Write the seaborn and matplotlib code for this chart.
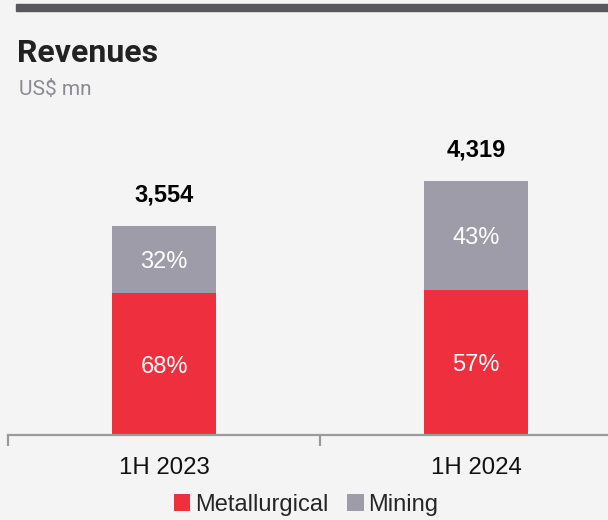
import matplotlib
matplotlib.use("Agg")
import matplotlib.pyplot as plt
import seaborn as sns
import pandas as pd
from matplotlib.patches import Patch, Rectangle

periods = ["1H 2023", "1H 2024"]
totals = [3554, 4319]
metallurgical_pct = [68, 57]
mining_pct = [32, 43]
total_labels = ["3,554", "4,319"]

RED = "#EE2F3E"
GRAY = "#9D9CA8"
BG = "#F4F4F4"

sns.set_theme(style="white")
plt.rcParams["font.family"] = ["Liberation Sans", "DejaVu Sans"]

df = pd.DataFrame({
    "period": periods,
    "total": totals,
    "met": [t * p / 100 for t, p in zip(totals, metallurgical_pct)],
})

W, H = 608, 520
fig = plt.figure(figsize=(W / 100, H / 100), dpi=100, facecolor=BG)

# axes: left at x=8 px, category width 312 px, base at y=435 px
ax_left = 8 / W
ax_w = 624 / W
ax_bottom = (H - 435) / H
ymax = 5000
px_per_unit = 209 / 3554
ax_h = ymax * px_per_unit / H
ax = fig.add_axes([ax_left, ax_bottom, ax_w, ax_h])
ax.set_facecolor(BG)

sns.barplot(data=df, x="period", y="total", color=GRAY, width=1/3,
            saturation=1, ax=ax, edgecolor="none")
sns.barplot(data=df, x="period", y="met", color=RED, width=1/3,
            saturation=1, ax=ax, edgecolor="none")

ax.set_xlim(-0.5, 1.5)
ax.set_ylim(0, ymax)
ax.set_xlabel("")
ax.set_ylabel("")
ax.set_yticks([])
for s in ["top", "right", "left"]:
    ax.spines[s].set_visible(False)
ax.spines["bottom"].set_color("#9a9a9a")
ax.spines["bottom"].set_linewidth(1.6)

ax.set_xticks([0, 1])
ax.set_xticklabels(periods, fontsize=17.3, color="#111111")
ax.tick_params(axis="x", which="major", length=0, pad=16)
ax.set_xticks([-0.5, 0.5, 1.5], minor=True)
ax.tick_params(axis="x", which="minor", length=8, width=1.6, color="#9a9a9a",
               direction="out", bottom=True)

for i, (t, mp, np_, lab) in enumerate(zip(totals, metallurgical_pct, mining_pct, total_labels)):
    met = t * mp / 100
    ax.annotate(f"{mp}%", (i, met / 2), xytext=(0, -2), textcoords="offset points",
                ha="center", va="center", color="white", fontsize=17)
    ax.annotate(f"{np_}%", (i, met + (t - met) / 2), xytext=(0, -2), textcoords="offset points",
                ha="center", va="center", color="white", fontsize=17)
    ax.annotate(lab, (i, t), xytext=(0, 14), textcoords="offset points",
                ha="center", va="bottom", fontsize=17, fontweight="bold", color="black")

# header
fig.patches.append(Rectangle((16 / W, 1 - 10.5 / H), 1 - 16 / W, 7 / H,
                             transform=fig.transFigure, color="#58585C", zorder=5))
fig.text(17 / W, 1 - 62 / H, "Revenues", fontsize=23, fontweight="bold",
         color="#222222", family=["Roboto", "DejaVu Sans"], va="baseline")
fig.text(19 / W, 1 - 95 / H, "US$ mn", fontsize=15, color="#8A8A93",
         family=["Roboto", "DejaVu Sans"], va="baseline")

handles = [Patch(facecolor=RED, edgecolor="none", label="Metallurgical"),
           Patch(facecolor=GRAY, edgecolor="none", label="Mining")]
fig.legend(handles=handles, loc="center", bbox_to_anchor=(306 / W, 1 - 505 / H),
           ncol=2, frameon=False, fontsize=17, handlelength=0.7, handleheight=0.7,
           handletextpad=0.2, columnspacing=0.8, borderaxespad=0, borderpad=0)

fig.savefig("out.png", dpi=100, facecolor=BG)
